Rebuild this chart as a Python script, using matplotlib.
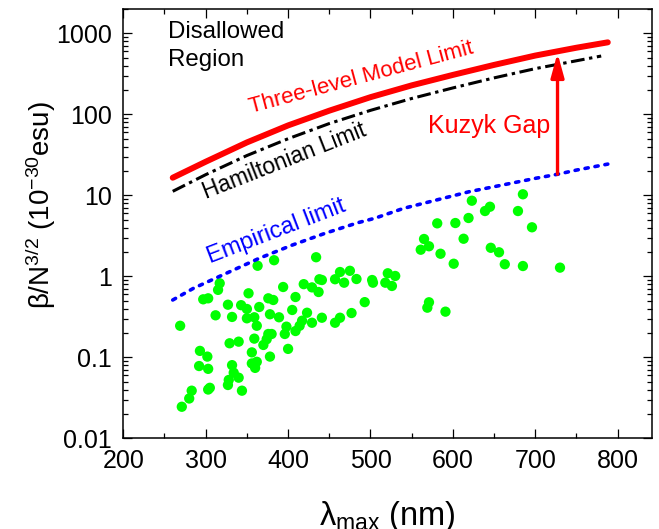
import numpy as np
import matplotlib
matplotlib.use('Agg')
import matplotlib.pyplot as plt
from matplotlib.ticker import MultipleLocator, LogLocator, FuncFormatter, NullFormatter

plt.rcParams['font.family'] = ['Liberation Sans', 'DejaVu Sans']
plt.rcParams['mathtext.fontset'] = 'custom'
plt.rcParams['mathtext.rm'] = 'Liberation Sans'
plt.rcParams['mathtext.it'] = 'Liberation Sans:italic'
plt.rcParams['mathtext.bf'] = 'Liberation Sans:bold'

# measured molecules: lambda_max (nm), beta/N^3/2 (1e-30 esu)
lam_meas = [269, 297, 303, 317, 315, 312, 327, 332, 352, 343, 350, 350, 359, 365, 362,
            363, 383, 434, 376, 382, 378, 389, 394, 405, 409, 419, 423, 429, 437, 438,
            441, 429, 441, 457, 463, 468, 475, 483, 457, 463, 477, 493, 502, 503, 518,
            521, 526, 530,
            329, 340, 359, 370, 376, 380, 374, 396, 398, 400, 409, 414, 417, 378, 356,
            356, 362, 360, 293, 302, 292, 303, 332, 334, 340, 328, 327, 344, 303, 305,
            283, 280, 271,
            623, 685, 581, 603, 619, 639, 645, 679, 696, 565, 561, 571, 585, 613, 601,
            646, 656, 663, 685, 730, 571, 569, 591]
beta_meas = [0.245, 0.52, 0.535, 0.82, 0.68, 0.33, 0.446, 0.315, 0.617, 0.44, 0.395, 0.303,
             0.312, 0.418, 0.245, 1.35, 1.58, 1.72, 0.535, 0.51, 0.34, 0.312, 0.738, 0.384,
             0.555, 0.80, 0.355, 0.73, 0.64, 0.92, 0.90, 0.267, 0.308, 0.92, 1.13, 0.834,
             1.17, 0.926, 0.267, 0.308, 0.352, 0.48, 0.90, 0.834, 0.834, 1.09, 0.76, 1.01,
             0.149, 0.156, 0.17, 0.142, 0.194, 0.194, 0.167, 0.194, 0.239, 0.127, 0.211,
             0.245, 0.283, 0.102, 0.115, 0.084, 0.088, 0.074, 0.12, 0.102, 0.078, 0.072,
             0.080, 0.0645, 0.056, 0.0525, 0.0455, 0.0387, 0.040, 0.042, 0.0387, 0.031,
             0.0245,
             8.58, 10.3, 4.51, 4.55, 5.25, 6.4, 7.23, 6.4, 4.03, 2.89, 2.13, 2.35, 1.9,
             2.91, 1.43, 2.25, 1.98, 1.41, 1.34, 1.28, 0.478, 0.41, 0.366]

# limit curves
lam_lim = [260, 300, 350, 400, 450, 500, 550, 600, 650, 700, 750, 788]
three_level = [16.5, 26, 45, 73, 111, 163, 228, 307, 408, 532, 665, 775]
lam_ham = [260, 300, 350, 400, 450, 500, 550, 600, 650, 700, 750, 780]
hamiltonian = [11.2, 18, 31, 50, 77, 112, 157, 212, 282, 367, 459, 525]
lam_emp = [260, 285, 325, 365, 405, 445, 485, 505, 540, 580, 620, 660, 700, 727, 750, 788]
empirical = [0.51, 0.71, 1.09, 1.67, 2.43, 3.4, 4.6, 5.2, 6.9, 8.75, 11.1, 13.4, 16.2,
             18.2, 20.5, 24.3]

# gap arrow between empirical and three-level limit
gap_lam = 727
gap_low = 18.2
gap_high = 570

fig = plt.figure(figsize=(6.59, 5.29), dpi=100)
ax = fig.add_axes([0.1871, 0.1715, 0.8027, 0.8115])

ax.scatter(lam_meas, beta_meas, s=55, c='#00ff00', edgecolors='none', zorder=2)
ax.plot(lam_lim, three_level, color='red', lw=4.3, solid_capstyle='round', zorder=3)
ax.plot(lam_ham, hamiltonian, color='black', lw=2.2, dashes=(4.5, 1.5, 1.1, 1.5), zorder=3)
ax.plot(lam_emp, empirical, color='blue', lw=2.6, dashes=(0.9, 1.9),
        dash_capstyle='round', zorder=3)

ax.annotate('', xy=(gap_lam, gap_high), xytext=(gap_lam, gap_low),
            arrowprops=dict(arrowstyle='-|>,head_length=0.8,head_width=0.22',
                            mutation_scale=18, color='red', lw=2.4,
                            shrinkA=0, shrinkB=0), zorder=4)

ax.text(0.085, 0.972, 'Disallowed\nRegion', transform=ax.transAxes, fontsize=17.3,
        va='top', ha='left', linespacing=1.33)
ax.text(644, 59, 'Kuzyk Gap', color='red', fontsize=18, ha='center', va='baseline')
ax.text(491, 241, 'Three-level Model Limit', color='red', fontsize=16, rotation=15,
        rotation_mode='anchor', ha='center', va='baseline')
ax.text(399, 22.2, 'Hamiltonian Limit', fontsize=16.3, rotation=21.5,
        rotation_mode='anchor', ha='center', va='baseline')
ax.text(388, 3.08, 'Empirical limit', color='blue', fontsize=17, rotation=21,
        rotation_mode='anchor', ha='center', va='baseline')

ax.set_yscale('log')
ax.set_xlim(200, 842)
ax.set_ylim(0.01, 2000)
ax.xaxis.set_major_locator(MultipleLocator(100))
ax.xaxis.set_minor_locator(MultipleLocator(50))
ax.yaxis.set_major_locator(LogLocator(base=10, numticks=10))
ax.yaxis.set_minor_locator(LogLocator(base=10, subs=np.arange(2, 10), numticks=20))
ax.yaxis.set_major_formatter(FuncFormatter(lambda v, p: f'{v:g}'))
ax.yaxis.set_minor_formatter(NullFormatter())
ax.tick_params(which='both', direction='in', top=True, right=True, labelsize=18,
               width=0.9, pad=8)
ax.tick_params(which='major', length=6.5)
ax.tick_params(which='minor', length=3.6)
for s in ax.spines.values():
    s.set_linewidth(1.1)

ax.set_xlabel(r'λ$_{\mathrm{max}}$ (nm)', fontsize=23.5)
ax.xaxis.label.set_va('baseline')
ax.xaxis.set_label_coords(0.5, -0.203)
ax.set_ylabel(r'β/N$^{3/2}$ (10$^{-30}$esu)', fontsize=20)
ax.yaxis.set_label_coords(-0.1235, 0.543)

fig.savefig('out.png', dpi=100)
